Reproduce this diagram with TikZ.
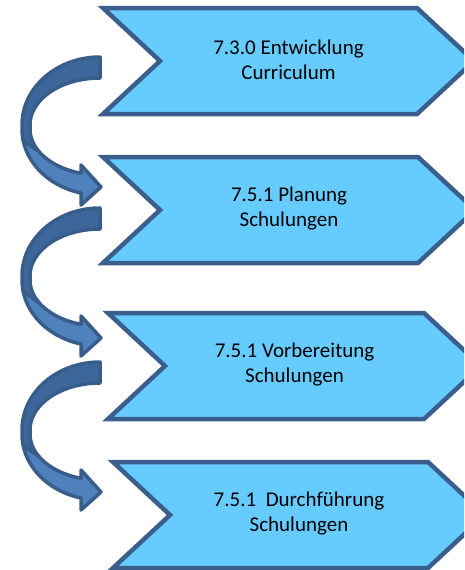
\documentclass[tikz,border=0pt]{standalone}
\usepackage{fontspec}
\setmainfont{Carlito}
\definecolor{chevronfill}{HTML}{66CCFF}
\definecolor{chevronline}{HTML}{3B5F8D}
\definecolor{arrowdark}{HTML}{3D679A}
\definecolor{arrowlight}{HTML}{4F81BD}
\definecolor{arrowline}{HTML}{385D8A}
\begin{document}
\begin{tikzpicture}[x=1pt,y=-1pt,
  chevron/.style={draw=chevronline, fill=chevronfill, line width=4.5pt, line join=miter},
  steptext/.style={align=center, font=\fontsize{21}{25}\selectfont, text=black, inner sep=0pt},
  arrowback/.style={fill=arrowdark, draw=arrowline, line width=3.5pt, line join=round},
  arrowfront/.style={fill=arrowlight, draw=arrowline, line width=3.5pt, line join=round},
  % curved block arrow: tail at the origin, bending round to the left and back
  pics/bend/.style={code={
    \path[arrowback] (0,0)
      -- plot[domain=270:180, samples=40, variable=\t] ({78*cos(\t)},{68+68*sin(\t)})
      -- plot[domain=180:170, samples=5, variable=\t] ({78*cos(\t)},{72+66*sin(\t)})
      -- plot[domain=150:180, samples=15, variable=\t] ({70*cos(\t)},{72+46*sin(\t)})
      -- plot[domain=180:270, samples=40, variable=\t] ({70*cos(\t)},{68+47*sin(\t)})
      -- cycle;
    \path[arrowfront]
      plot[domain=170:104, samples=40, variable=\t] ({78*cos(\t)},{72+66*sin(\t)})
      -- (-19,148) -- (1,130) -- (-19,108)
      -- plot[domain=105.7:150, samples=25, variable=\t] ({70*cos(\t)},{72+46*sin(\t)})
      -- cycle;
  }}]
\useasboundingbox (0,0) rectangle (464,570);
\clip (0,0) rectangle (464,570);

% process steps as chevrons
\foreach \n/\L/\R/\T/\txt in {
    1/103/417/8/{7.3.0 Entwicklung\\Curriculum},
    2/103/418/157/{7.5.1 Planung\\Schulungen},
    3/108/424/313/{7.5.1 Vorbereitung\\Schulungen},
    4/113/428/462/{7.5.1\ \ Durchführung\\Schulungen}} {
  \path[chevron] (\L,\T) -- (\R,\T) -- (\R+57,\T+53) -- (\R,\T+106)
    -- (\L,\T+106) -- (\L+57,\T+53) -- cycle;
  \node[steptext] (step\n) at ({(\L+57+\R)/2},\T+52) {\txt};
}

% curved arrows leading from one step to the next
\pic (bendA) at (100,57) {bend};
\pic (bendB) at (100,208) {bend};
\pic (bendC) at (100,362) {bend};
\end{tikzpicture}
\end{document}
